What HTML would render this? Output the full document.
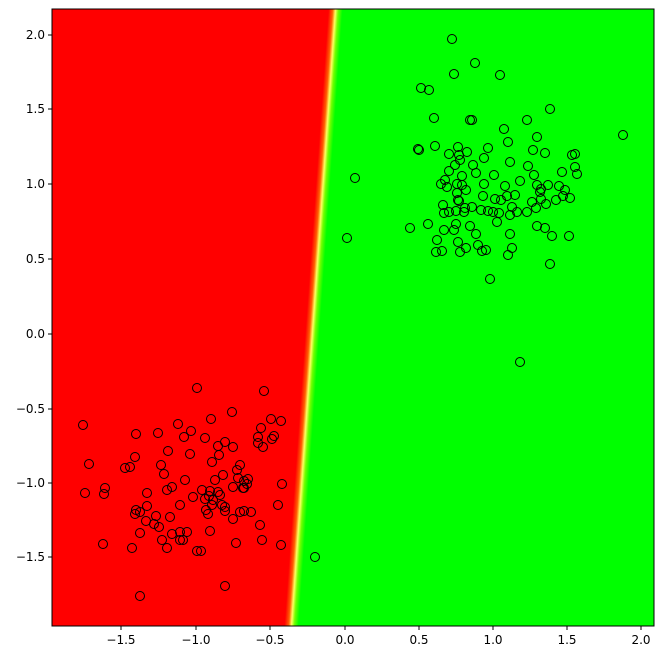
<!DOCTYPE html>
<html><head><style>body{margin:0;background:#fff}svg{display:block}text{font-family:"DejaVu Sans","Liberation Sans",sans-serif;font-size:12px;fill:#000}</style></head>
<body>
<svg width="663" height="659" xmlns="http://www.w3.org/2000/svg">
<defs>
<linearGradient id="g" gradientUnits="userSpaceOnUse" x1="306.5" y1="317" x2="320.5" y2="318">
<stop offset="0" stop-color="#ff0000"/><stop offset="0.3" stop-color="#ff6000"/><stop offset="0.5" stop-color="#ffff60"/><stop offset="0.7" stop-color="#70ff00"/><stop offset="1" stop-color="#00ff00"/>
</linearGradient>
</defs>
<rect x="52" y="9" width="602" height="617" fill="url(#g)"/>
<g id="pts" fill="none" stroke="#000" stroke-width="1"></g>
<rect x="52" y="9" width="602" height="617" fill="none" stroke="#000"/>
<g stroke="#000">
<line x1="121" y1="626" x2="121" y2="630"/><line x1="196" y1="626" x2="196" y2="630"/><line x1="270" y1="626" x2="270" y2="630"/><line x1="345" y1="626" x2="345" y2="630"/><line x1="419" y1="626" x2="419" y2="630"/><line x1="493" y1="626" x2="493" y2="630"/><line x1="567" y1="626" x2="567" y2="630"/><line x1="641" y1="626" x2="641" y2="630"/>
<line x1="48" y1="35" x2="52" y2="35"/><line x1="48" y1="109" x2="52" y2="109"/><line x1="48" y1="184" x2="52" y2="184"/><line x1="48" y1="259" x2="52" y2="259"/><line x1="48" y1="334" x2="52" y2="334"/><line x1="48" y1="409" x2="52" y2="409"/><line x1="48" y1="483" x2="52" y2="483"/><line x1="48" y1="557" x2="52" y2="557"/>
</g>
<g text-anchor="middle">
<text x="121" y="644">−1.5</text><text x="196" y="644">−1.0</text><text x="270" y="644">−0.5</text><text x="345" y="644">0.0</text><text x="419" y="644">0.5</text><text x="493" y="644">1.0</text><text x="567" y="644">1.5</text><text x="641" y="644">2.0</text>
</g>
<g text-anchor="end">
<text x="45" y="39">2.0</text><text x="45" y="113">1.5</text><text x="45" y="188">1.0</text><text x="45" y="263">0.5</text><text x="45" y="338">0.0</text><text x="45" y="413">−0.5</text><text x="45" y="487">−1.0</text><text x="45" y="561">−1.5</text>
</g>
</svg>
<script>
var p=[[452,39],[475,63],[500,75],[454,74],[421,88],[429,90],[470,120],[472,120],[550,109],[434,118],[504,129],[527,120],[419,150],[435,146],[458,147],[488,148],[467,152],[508,142],[537,137],[533,150],[418,149],[623,135],[459,155],[449,154],[460,160],[455,165],[473,165],[484,158],[510,162],[572,155],[545,153],[449,171],[445,180],[462,176],[441,184],[457,184],[466,190],[476,173],[494,175],[528,166],[537,185],[548,185],[575,167],[562,172],[575,154],[355,178],[447,187],[457,193],[462,185],[484,184],[505,186],[520,181],[534,175],[559,186],[565,190],[577,174],[459,201],[483,196],[501,200],[495,199],[507,196],[515,195],[540,192],[541,189],[563,196],[570,198],[443,205],[458,200],[465,208],[449,212],[444,213],[456,211],[464,212],[472,207],[481,210],[488,211],[499,213],[512,207],[517,212],[527,212],[536,208],[541,199],[546,204],[556,200],[510,215],[532,202],[493,212],[454,230],[428,224],[444,230],[456,224],[410,228],[437,240],[442,251],[470,226],[476,234],[497,222],[510,234],[537,226],[545,228],[552,236],[569,236],[478,245],[482,251],[458,242],[436,252],[460,252],[466,248],[486,250],[512,248],[508,255],[550,264],[490,279],[347,238],[520,362],
[83,425],[89,464],[136,434],[125,468],[135,457],[130,467],[147,493],[158,433],[178,424],[168,451],[161,465],[164,474],[184,437],[191,431],[197,388],[211,419],[190,454],[205,438],[225,442],[218,446],[233,447],[212,462],[219,455],[232,412],[264,391],[271,419],[281,421],[258,437],[263,447],[272,439],[258,443],[261,428],[237,470],[240,465],[238,478],[244,481],[244,488],[223,475],[215,480],[202,490],[193,497],[167,490],[172,487],[180,505],[147,506],[136,510],[135,514],[156,516],[154,524],[140,512],[170,517],[183,540],[180,532],[187,532],[210,491],[209,496],[205,499],[213,500],[218,492],[212,505],[233,487],[225,507],[247,484],[248,479],[220,495],[206,510],[208,514],[225,511],[244,511],[262,540],[278,505],[274,436],[282,484],[159,527],[162,540],[172,534],[180,540],[197,551],[201,551],[210,531],[222,505],[233,519],[251,512],[260,525],[240,512],[85,493],[105,488],[104,494],[103,544],[132,548],[140,596],[225,586],[236,543],[281,545],[315,557],[243,488],[167,548],[146,521],[185,480],[140,533]];
var g=document.getElementById('pts'),s='';
p.forEach(function(a){s+='<circle cx="'+a[0]+'" cy="'+a[1]+'" r="4.5"/>';});
g.innerHTML=s;
</script>
</body></html>
